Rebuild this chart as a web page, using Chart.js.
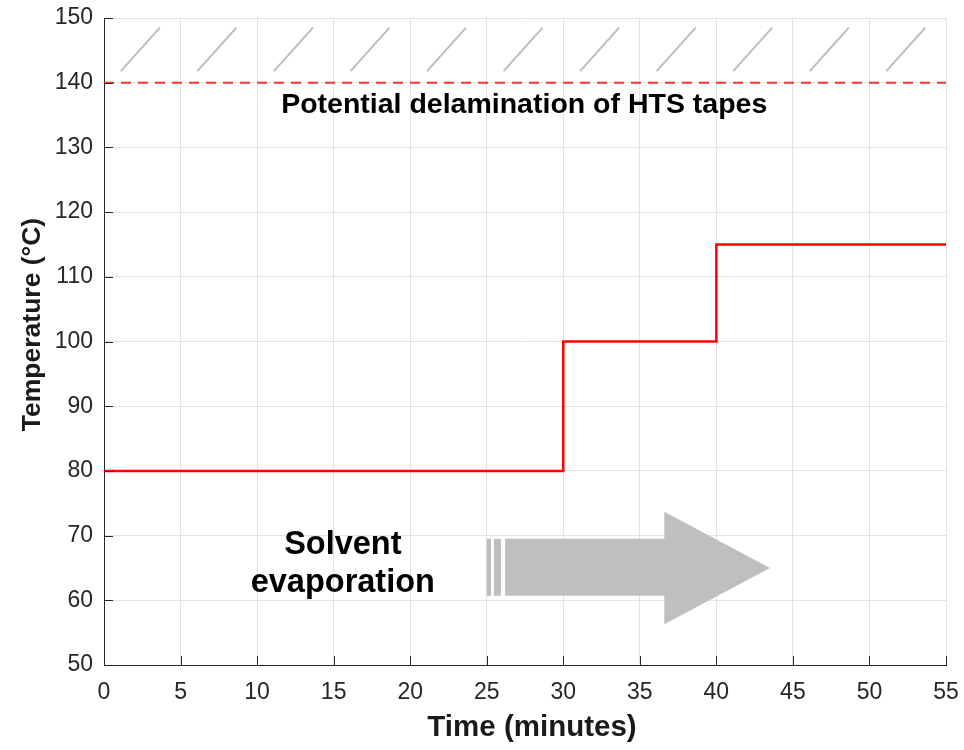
<!DOCTYPE html>
<html>
<head>
<meta charset="utf-8">
<script src="https://cdn.jsdelivr.net/npm/chart.js@4/dist/chart.umd.min.js"></script>
<style>
  html, body { margin: 0; padding: 0; background: #ffffff; }
  #wrap { width: 964px; height: 750px; }
</style>
</head>
<body>
<div id="wrap"><canvas id="chart" width="964" height="750"></canvas></div>
<script>
// Heating schedule: temperature held at each level until the next change
const stepTimes = [0, 30, 40, 55];          // minutes
const stepTemps = [80, 100, 115, 115];      // °C
const limitTemp = 140;                      // delamination threshold, °C

const xTickValues = [0, 5, 10, 15, 20, 25, 30, 35, 40, 45, 50, 55];
const yTickValues = [50, 60, 70, 80, 90, 100, 110, 120, 130, 140, 150];

// Hatch strokes above the threshold (start/end time, low/high temperature)
const hatchStart = [1.1, 6.1, 11.1, 16.1, 21.1, 26.1, 31.1, 36.1, 41.1, 46.1, 51.1];
const hatchEnd   = [3.65, 8.65, 13.65, 18.65, 23.65, 28.65, 33.65, 38.65, 43.65, 48.65, 53.65];
const hatchTemps = [141.8, 148.5];

// Process arrow outline (time, temperature)
const arrowShaftTimes = [26.2, 36.6];
const arrowShaftTemps = [60.7, 69.5];
const arrowHeadTemps  = [56.3, 73.7];
const arrowTip        = [43.5, 65];
const arrowStripes    = [[25.0, 25.28], [25.47, 25.93]];

const xTitle = 'Time (minutes)';
const yTitle = 'Temperature (°C)';

const FONT = '"Liberation Sans", Arial, Helvetica, sans-serif';
const INK = '#262626';

const overlay = {
  id: 'overlay',
  beforeDatasetsDraw(chart) {
    const { ctx, scales: { x, y } } = chart;
    ctx.save();
    // hatch strokes
    ctx.strokeStyle = '#bdbdbd';
    ctx.lineWidth = 2;
    for (let i = 0; i < hatchStart.length; i++) {
      ctx.beginPath();
      ctx.moveTo(x.getPixelForValue(hatchStart[i]), y.getPixelForValue(hatchTemps[0]));
      ctx.lineTo(x.getPixelForValue(hatchEnd[i]), y.getPixelForValue(hatchTemps[1]));
      ctx.stroke();
    }
    // arrow
    ctx.fillStyle = '#bfbfbf';
    ctx.beginPath();
    ctx.moveTo(x.getPixelForValue(arrowShaftTimes[0]), y.getPixelForValue(arrowShaftTemps[1]));
    ctx.lineTo(x.getPixelForValue(arrowShaftTimes[1]), y.getPixelForValue(arrowShaftTemps[1]));
    ctx.lineTo(x.getPixelForValue(arrowShaftTimes[1]), y.getPixelForValue(arrowHeadTemps[1]));
    ctx.lineTo(x.getPixelForValue(arrowTip[0]), y.getPixelForValue(arrowTip[1]));
    ctx.lineTo(x.getPixelForValue(arrowShaftTimes[1]), y.getPixelForValue(arrowHeadTemps[0]));
    ctx.lineTo(x.getPixelForValue(arrowShaftTimes[1]), y.getPixelForValue(arrowShaftTemps[0]));
    ctx.lineTo(x.getPixelForValue(arrowShaftTimes[0]), y.getPixelForValue(arrowShaftTemps[0]));
    ctx.closePath();
    ctx.fill();
    for (const [a, b] of arrowStripes) {
      const xa = x.getPixelForValue(a), xb = x.getPixelForValue(b);
      const ya = y.getPixelForValue(arrowShaftTemps[1]), yb = y.getPixelForValue(arrowShaftTemps[0]);
      ctx.fillRect(xa, ya, xb - xa, yb - ya);
    }
    // annotations
    ctx.fillStyle = '#000000';
    ctx.textAlign = 'center';
    ctx.textBaseline = 'middle';
    ctx.font = 'bold 28.5px ' + FONT;
    ctx.fillText('Potential delamination of HTS tapes', x.getPixelForValue(27.45), y.getPixelForValue(136.6));
    ctx.font = 'bold 32.5px ' + FONT;
    ctx.fillText('Solvent', x.getPixelForValue(15.6), y.getPixelForValue(68.6));
    ctx.fillText('evaporation', x.getPixelForValue(15.6), y.getPixelForValue(62.7));
    ctx.restore();
  },
  afterDraw(chart) {
    const { ctx, chartArea: a, scales: { x, y } } = chart;
    ctx.save();
    // inward tick marks on the left and bottom axes
    ctx.strokeStyle = INK;
    ctx.lineWidth = 1;
    ctx.beginPath();
    for (const v of xTickValues) {
      const px = Math.round(x.getPixelForValue(v)) + 0.5;
      ctx.moveTo(px, a.bottom);
      ctx.lineTo(px, a.bottom - 9);
    }
    for (const v of yTickValues) {
      const py = Math.round(y.getPixelForValue(v)) + 0.5;
      ctx.moveTo(a.left, py);
      ctx.lineTo(a.left + 9, py);
    }
    ctx.stroke();
    // axis titles
    ctx.fillStyle = '#1a1a1a';
    ctx.textAlign = 'center';
    ctx.textBaseline = 'middle';
    ctx.font = 'bold 29.5px ' + FONT;
    ctx.fillText(xTitle, (a.left + a.right) / 2 + 7, a.bottom + 63);
    ctx.translate(33, (a.top + a.bottom) / 2 - 17);
    ctx.rotate(-Math.PI / 2);
    ctx.font = 'bold 26.5px ' + FONT;
    ctx.fillText(yTitle, 0, 0);
    ctx.restore();
  }
};

new Chart(document.getElementById('chart'), {
  type: 'line',
  data: {
    datasets: [
      {
        label: 'Threshold',
        data: [{ x: xTickValues[0], y: limitTemp }, { x: xTickValues[xTickValues.length - 1], y: limitTemp }],
        borderColor: '#ff3030',
        borderWidth: 2,
        borderDash: [10, 7],
        pointRadius: 0,
        fill: false
      },
      {
        label: 'Temperature',
        data: stepTimes.map((t, i) => ({ x: t, y: stepTemps[i] })),
        borderColor: '#ff0000',
        borderWidth: 2.5,
        stepped: 'before',
        pointRadius: 0,
        fill: false
      }
    ]
  },
  options: {
    responsive: false,
    devicePixelRatio: 1,
    animation: false,
    layout: { padding: { top: 18, right: 18, left: 0, bottom: 0 } },
    plugins: { legend: { display: false }, tooltip: { enabled: false } },
    scales: {
      x: {
        type: 'linear',
        min: 0, max: 55,
        afterBuildTicks(s) { s.ticks = xTickValues.map(v => ({ value: v })); },
        afterFit(s) { s.height = 85; s.paddingLeft = 0; s.paddingRight = 0; },
        grid: { color: '#e2e2e2', lineWidth: 1, drawTicks: false },
        border: { display: true, color: INK, width: 1 },
        ticks: { color: INK, font: { family: FONT, size: 23 }, padding: 14, maxRotation: 0 },
        title: { display: false }
      },
      y: {
        type: 'linear',
        min: 50, max: 150,
        afterBuildTicks(s) { s.ticks = yTickValues.map(v => ({ value: v })); },
        afterFit(s) { s.width = 104; s.paddingTop = 0; s.paddingBottom = 0; },
        grid: { color: '#e2e2e2', lineWidth: 1, drawTicks: false },
        border: { display: true, color: INK, width: 1 },
        ticks: { color: INK, font: { family: FONT, size: 23 }, padding: 11 },
        title: { display: false }
      }
    }
  },
  plugins: [overlay]
});
</script>
</body>
</html>
